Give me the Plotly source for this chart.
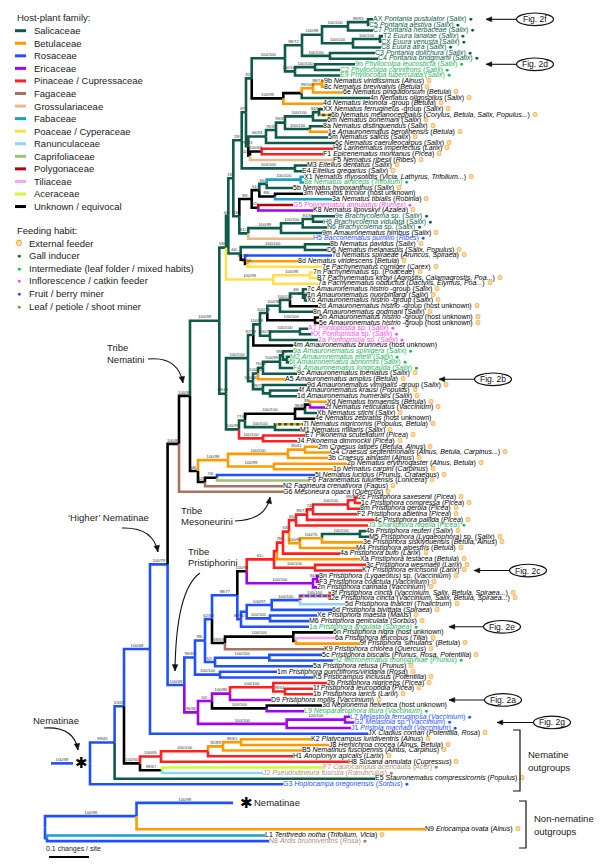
import plotly.graph_objects as go

# ------------------------------------------------------------------ data
FAMILY_KEYS = ["sal", "bet", "ros", "eri", "pin", "fag", "gro", "fab", "poa", "ran", "cap", "pol", "til", "ace", "unk"]
FAMILY_NAMES = ["Salicaceae", "Betulaceae", "Rosaceae", "Ericaceae", "Pinaceae / Cupressaceae", "Fagaceae",
                "Grossulariaceae", "Fabaceae", "Poaceae / Cyperaceae", "Ranunculaceae", "Caprifoliaceae",
                "Polygonaceae", "Tiliaceae", "Aceraceae", "Unknown / equivocal"]
FAMILY_COLORS = ["#0d5b48", "#ff9a00", "#1f50ff", "#a100f2", "#ff1f1f", "#a8735c", "#e8bb8c", "#1aa0c8",
                 "#ffe04a", "#8fd6f6", "#9dbd78", "#b80012", "#f6a6ec", "#ccff33", "#000000"]
HABIT_KEYS = ["ext", "gall", "int", "inf", "fru", "min"]
HABIT_NAMES = ["External feeder", "Gall inducer", "Intermediate (leaf folder / mixed habits)",
               "Inflorescence / catkin feeder", "Fruit / berry miner", "Leaf / petiole / shoot miner"]
HABIT_COLORS = ["#ff9a00", "#0d5b48", "#1db45a", "#ff4de6", "#1f50ff", "#a8785e"]
HABIT_TEXT = ["#000000", "#0d5b48", "#1db45a", "#ff4de6", "#1f50ff", "#b39079"]

TIP_CODE = ["AX", "C5", "C7", "T2", "CX", "C8", "C3", "C4", "9n", "C2", "E9", "9b", "8c", "6e", "4n", "4d", "XX",
            "6b", "6m", "8a", "1e", "5m", "6c", "H6", "F1", "F5", "M3", "E4", "X1", "8e", "5b", "3m", "3a", "G5",
            "K8", "9e", "H6", "N6", "9m", "H5", "8b", "D6", "7d", "8d", "7e", "7n", "B7", "7a", "7c", "1n", "Xc",
            "2d", "8n", "5n", "5e", "A7", "KX", "2a", "4m", "9a", "M2", "6t", "F4", "9c", "A5", "9d", "4f", "1d",
            "Xd", "2f", "Xb", "4e", "7l", "M1", "E7", "J4", "2m", "G4", "3b", "2p", "1p", "5l", "F6", "N2", "G6",
            "2c", "1c", "8m", "F2", "4c", "J3", "4b", "M5", "3e", "M4", "4a", "Xa", "3c", "K7", "3n", "F3", "2n",
            "3f", "2e", "5d", "6d", "Xe", "M6", "1a", "6n", "6a", "9f", "K9", "5c", "H2", "5a", "1m", "K5", "2b",
            "1f", "1b", "D9", "3d", "L9", "L7", "G2", "J1", "JX", "K2", "J8", "B5", "H1", "H8", "F7", "J2", "E5",
            "G3"]
TIP_TAXON = ["Pontania pustulator", "Pontania aestiva", "Pontania herbaceae", "Euura lanatae", "Euura venusta",
             "Euura atra", "Pontania dolichura", "Pontania bridgmanii", "Phyllocolpa leucosticta",
             "Phyllocolpa carinifrons", "Phyllocolpa tuberculata", "Nematus viridissimus", "Nematus brevivalvis",
             "Nematus pinguidorsum", "Nematus oligospilus", "Nematus leionota -group", "Nematus ferrugineus -group",
             "Nematus melanocephalus", "Nematus bohemani", "Nematus distinguendus", "Amauronematus berolinensis",
             "Nematus salicis", "Nematus caeruleocarpus", "Larinematus imperfectus", "Epicenematus montanus",
             "Nematus ribesii", "Eitelius dentatus", "Eitelius gregarius", "Nematus myosotidis", "Nematus alniceps",
             "Nematus hypoxanthus", "Nematus tricolor ", "Nematus tibialis", "Polynematus annulatus",
             "Nematus lipovskyi", "Brachycolema sp.", "Brachycolema vidulata", "Brachycolema sp.",
             "Amauronematus nimbus", "Bacconematus pumilio", "Nematus pavidus", "Nematus melanaspis",
             "Nematus spiraeae", "Nematus viridescens", "Pachynematus corniger", "Pachynematus sp.",
             "Pachynematus kirbyi", "Pachynematus obductus", "Amauronematus histrio -group",
             "Amauronematus nuorbinjargi", "Amauronematus histrio -group", "Amauronematus histrio -group",
             "Amauronematus godmani", "Amauronematus histrio -group", "Amauronematus histrio -group",
             "Pontopristia sp.", "Pontopristia sp.", "Pontopristia sp.", "Amauronematus brunneus",
             "Amauronematus spinigera", "Amauronematus eitelii", "Amauronematus abnormis",
             "Amauronematus longicauda", "Amauronematus toeniatus", "Amauronematus amplus",
             "Amauronematus viminalis -group", "Amauronematus krausi", "Amauronematus humeralis",
             "Nematus tomaensis", "Nematus reticulatus", "Nematus stichi", "Nematus zebratus",
             "Nematus nigricornis", "Nematus miliaris", "Pikonema scutellatum", "Pikonema dimmockii",
             "Craesus latipes", "Craesus septentrionalis", "Craesus alniastri", "Nematus erythrogaster",
             "Nematus carpini", "Nematus lucidus", "Paranematus tulunensis", "Fagineura crenativora",
             "Mesoneura opaca", "Pristiphora saxesenii", "Pristiphora compressa", "Pristiphora gerula",
             "Pristiphora abietina", "Pristiphora pallida", "Sharliphora nigella", "Pristiphora reuteri",
             "Pristiphora (Lygaeophora) sp.", "Pristiphora siskiyouensis", "Pristiphora alpestris",
             "Pristiphora bufo", "Pristiphora testacea", "Pristiphora wesmaeli", "Pristiphora erichsonii",
             "Pristiphora (Lygaeotus) sp.", "Pristiphora coactula", "Pristiphora carinata", "Pristiphora cincta",
             "Pristiphora cincta", "Pristiphora thalictri", "Pristiphora bivittata", "Pristiphora maesta",
             "Pristiphora geniculata", "Pristiphora angulata", "Pristiphora nigra", "Pristiphora leucopus",
             "Pristiphora 'simulans'", "Pristiphora chlorea", "Pristiphora biscalis", "Micronematus monogyniae",
             "Pristiphora retusa", "Pristiphora punctifrons/viridana", "Pristicampus inclusus",
             "Pristiphora nigriceps", "Pristiphora leucopodia", "Pristiphora laricis", "Pristiphora mollis",
             "Nepionema helvetica", "Neoparaeophora litura", "Melastola ferruginosa", "Melastola sp.",
             "Pristola macnabi", "Cladius comari", "Platycampus luridiventris", "Hemichroa crocea",
             "Nematinus fuscipennis", "Anoplonyx apicalis", "Susana annulata", "Caulocampus acericaulis",
             "Pseudodineura fuscula", "Stauronematus compressicornis", "Hoplocampa oregonensis"]
TIP_HOST = ["Salix", "Salix", "Salix", "Salix", "Salix", "Salix", "Salix", "Salix", "Salix", "Salix", "Salix",
            "Alnus", "Betula", "Betula", "Salix", "Betula", "Salix", "Corylus, Betula, Salix, Populus...", "Salix",
            "Salix", "Betula", "Salix", "Salix", "Larix", "Picea", "Ribes", "Salix", "Salix",
            "Vicia, Lathyrus, Trifolium...", "Trifolium", "Salix", "host unknown", "Robinia", "Rumex", "Azalea",
            "Salix", "Salix", "Salix", "Salix", "Ribes", "Salix", "Salix, Populus", "Aruncus, Spiraea", "Betula",
            "Carex", "Poaceae", "Agrostis, Calamagrostis, Poa...", "Dactylis, Elymus, Poa...", "Salix", "Salix",
            "Salix", "host unknown", "Salix", "host unknown", "host unknown", "Salix", "Salix", "Salix",
            "host unknown", "Salix", "Salix", "Salix", "Salix", "Salix", "Betula", "Salix", "Populus", "Salix",
            "Betula", "Vaccinium", "Salix", "host unknown", "Populus, Betula", "Salix", "Picea", "Picea",
            "Betula, Alnus", "Alnus, Betula, Carpinus...", "Alnus", "Alnus, Betula", "Carpinus",
            "Prunus, Crataegus", "Lonicera", "Fagus", "Quercus", "Picea", "Picea", "Picea", "Picea", "Picea",
            "Picea", "Salix", "Salix", "Betula, Alnus", "Betula", "Larix", "Betula", "Larix", "Larix", "Vaccinium",
            "Vaccinium", "Vaccinium", "Vaccinium, Salix, Betula, Spiraea...", "Vaccinium, Salix, Betula, Spiraea...",
            "Thalictrum", "Spiraea", "Malus", "Sorbus", "Spiraea", "host unknown", "Tilia", "Betula", "Quercus",
            "Prunus, Rosa, Potentilla", "Prunus", "Prunus", "Rosa", "Potentilla", "Picea", "Picea", "Larix",
            "Vaccinium", "host unknown", "Vaccinium", "Vaccinium", "Vaccinium", "Vaccinium", "Potentilla, Rosa",
            "Alnus", "Alnus, Betula", "Alnus, Carpinus", "Larix", "Cupressus", "Acer", "Ranunculus", "Populus",
            "Sorbus"]
TIP_FAM = ["sal"] * 11 + ["bet", "bet", "bet", "sal", "bet", "sal", "bet/sal", "sal", "sal", "bet", "sal", "sal",
           "pin", "pin", "gro", "sal", "sal", "fab", "fab", "sal", "unk", "fab", "pol", "eri", "sal", "sal", "sal",
           "sal", "gro", "sal", "sal", "ros", "bet", "poa", "poa", "poa", "poa", "sal", "sal", "sal", "unk", "sal",
           "unk", "unk", "sal", "sal", "sal", "unk", "sal", "sal", "sal", "sal", "sal", "bet", "sal", "sal", "sal",
           "bet", "eri", "sal", "unk", "bet/sal", "sal", "pin", "pin", "bet", "bet", "bet", "bet", "bet", "ros",
           "cap", "fag", "fag", "pin", "pin", "pin", "pin", "pin", "pin", "sal", "sal", "bet", "bet", "pin", "bet",
           "pin", "pin", "eri", "eri", "eri", "mix", "mix", "ran", "ros", "ros", "ros", "ros", "unk", "til", "bet",
           "fag", "ros", "ros", "ros", "ros", "ros", "pin", "pin", "pin", "eri", "unk", "eri", "eri", "eri", "eri",
           "ros", "bet", "bet", "bet", "pin", "pin", "ace", "ran", "sal", "ros"]
TIP_HABIT = (["gall"] * 8 + ["int"] * 3 + ["ext"] * 18 +
             ["int", "ext", "", "ext", "inf", "ext", "gall", "gall", "gall", "ext", "fru"] +
             ["ext"] * 15 + ["inf"] * 3 + [""] + ["int"] * 4 + ["ext"] * 8 + [""] + ["ext"] * 18 + ["int"] +
             ["ext"] * 17 + ["int", ""] + ["ext"] * 4 + ["int"] + ["ext"] * 7 + ["", "int", "fru", "fru", "fru"] +
             ["ext"] * 6 + ["min", "min", "ext", "fru"])
TIP_DEPTH = [0.7075, 0.6975, 0.7075, 0.7325, 0.7275, 0.7275, 0.7125, 0.72, 0.6625, 0.625, 0.625, 0.585, 0.585,
             0.6325, 0.70, 0.5825, 0.5825, 0.6025, 0.5925, 0.5825, 0.595, 0.595, 0.6125, 0.6075, 0.5825, 0.6075,
             0.5425, 0.53, 0.535, 0.535, 0.5075, 0.5325, 0.605, 0.5075, 0.5575, 0.6125, 0.5825, 0.5925, 0.58,
             0.5575, 0.60, 0.5925, 0.605, 0.52, 0.58, 0.5575, 0.5675, 0.57, 0.5425, 0.5425, 0.5425, 0.57, 0.5575,
             0.5725, 0.5725, 0.545, 0.5525, 0.57, 0.5075, 0.5075, 0.50, 0.4975, 0.5075, 0.5175, 0.4875, 0.5425,
             0.52, 0.5175, 0.5925, 0.5875, 0.5675, 0.5625, 0.5325, 0.525, 0.5375, 0.5175, 0.57, 0.60, 0.595, 0.6425,
             0.6075, 0.5625, 0.545, 0.4825, 0.4825, 0.67, 0.6775, 0.675, 0.6675, 0.71, 0.695, 0.69, 0.6975, 0.6825,
             0.665, 0.625, 0.675, 0.69, 0.68, 0.5725, 0.5725, 0.5675, 0.6025, 0.6025, 0.6375, 0.605, 0.5675,
             0.5475, 0.5475, 0.6075, 0.6125, 0.675, 0.585, 0.58, 0.6075, 0.5575, 0.4675, 0.5575, 0.5925, 0.5575,
             0.5575, 0.4525, 0.58, 0.535, 0.65, 0.66, 0.6525, 0.695, 0.5525, 0.5975, 0.53, 0.5075, 0.645, 0.5825,
             0.4325, 0.7125, 0.4825]


def T(depth, fam, sup, *kids):
    return {"d": depth, "fam": fam, "sup": sup, "kids": list(kids)}


# node depths in changes/site from the Nematinae root; supports = bootstrap ML/MP
PONT = T(0.4875, "sal", "100/100",
         T(0.53, "sal", "98/72",
           T(0.58, "sal", "100/98",
             T(0.645, "sal", "100/100", T(0.695, "sal", "99/93", 0, 1), 2),
             T(0.6575, "sal", "100/100", T(0.725, "sal", "100/100", 3, 4), 5)),
           T(0.60, "sal", "100/100", 6, 7)),
         T(0.5125, "sal", "100/100", T(0.5625, "sal", "100/100", 8, 9), 10))
NU = T(0.34, "sal", "58/-",
       T(0.3458, "sal", "40/-",
         T(0.3583, "sal", "19/-",
           T(0.3793, "sal", "29/-",
             T(0.39, "sal", "87/-",
               T(0.4043, "sal", "92/-",
                 PONT,
                 T(0.4833, "unk", "100/99",
                   T(0.5293, "unk", "", T(0.5575, "bet", "99/100", T(0.58, "bet", "98/73", 11, 12), 13), 14),
                   15)),
               T(0.3958, "sal", "78/23",
                 T(0.44, "sal", "66/53",
                   T(0.465, "sal", "78/35",
                     T(0.4875, "sal", "99/55",
                       T(0.5575, "sal", "100/100", T(0.5725, "sal", "94/58", 16, 17), 18),
                       T(0.55, "sal", "100/100", 19, 20)),
                     21),
                   22),
                 T(0.40, "unk", "100/68", T(0.4293, "unk", "100/68", 23, 24), 25))),
             T(0.5125, "sal", "100/100", 26, 27)),
           T(0.3733, "sal", "43/-",
             T(0.4043, "unk", "99/-",
               T(0.4233, "unk", "51/-",
                 T(0.4418, "sal", "65/-", T(0.5268, "fab", "100/100", 28, 29), 30),
                 T(0.4625, "unk", "88/-", 31, 32)),
               T(0.4208, "unk", "52/-", 33, 34)),
             T(0.3958, "sal", "61/-",
               T(0.4775, "sal", "100/99",
                 T(0.5318, "sal", "100/100", T(0.5575, "sal", "91/56", 35, 36), 37), 38),
               39))),
         T(0.3768, "sal", "44/-",
           T(0.5375, "sal", "100/100", 40, 41),
           T(0.3875, "unk", "84/92", 42, T(0.3933, "unk", "36/15", 43, 44)))),
       T(0.4583, "poa", "100/93", T(0.55, "poa", "100/99", 45, 46), 47))
AMA = T(0.395, "sal", "100/100",
        T(0.4083, "sal", "97/59",
          T(0.425, "sal", "100/59",
            T(0.4433, "sal", "100/79",
              T(0.475, "sal", "100/98",
                T(0.50, "sal", "100/100", T(0.5325, "sal", "49/-", 48, T(0.5375, "sal", "100/97", 49, 50)), 51),
                52),
              T(0.5625, "unk", "100/100", 53, 54)),
            T(0.45, "sal", "100/79", T(0.525, "sal", "100/100", 55, 56), 57)),
          58),
        T(0.4075, "sal", "100/96",
          T(0.42, "sal", "100/92",
            T(0.4325, "sal", "76/48",
              T(0.475, "sal", "100/99", T(0.4825, "sal", "99/96", 59, T(0.4925, "sal", "", 60, 61)), 62),
              63),
            64),
          T(0.4325, "sal", "99/71", 65, T(0.45, "sal", "", 66, 67))))
K4 = T(0.3725, "sal", "100/95",
       T(0.3875, "sal", "77/67",
         T(0.5125, "unk", "100/100", T(0.5375, "unk", "98/83", T(0.55, "unk", "98/-", 68, 69), 70), 71),
         T(0.4625, "sal", "100/100", 72, 73)),
       T(0.4325, "pin", "100/100", 74, 75))
NEM = T(0.3233, "sal", "100/99", NU, T(0.34, "sal", "68/48", AMA, K4))
PIN = T(0.46, "pin", "61/-",
        T(0.4675, "pin", "",
          T(0.4825, "pin", "78/-",
            T(0.4975, "pin", "53/-",
              T(0.515, "pin", "65/-",
                T(0.5425, "pin", "99/73",
                  T(0.5575, "pin", "74/-",
                    T(0.645, "pin", "100/100", T(0.6625, "pin", "89/37", 85, 86), 87), 88), 89), 90),
              T(0.525, "bet", "100/96", T(0.58, "bet", "100/75", T(0.675, "sal", "100/100", 91, 92), 93), 94)),
            95),
          96),
        T(0.5625, "pin", "100/100", 97, 98))
VAC = T(0.5575, "eri", "100/100", T(0.5675, "eri", "94/92", 99, 100), 101)
C6 = T(0.3775, "ros", "88/80",
       T(0.3918, "ros", "",
         T(0.4543, "ros", "100/97", T(0.525, "ros", "100/100", T(0.5983, "mix", "100/100", 102, 103), 104), 105),
         T(0.45, "ros", "100/100", 106, 107)),
       108)
PW = T(0.3683, "ros", "98/77", T(0.3918, "unk", "100/98", PIN, VAC), C6)
Y0 = T(0.3375, "unk", "59/59", T(0.5083, "unk", "100/100", 109, T(0.515, "unk", "", 110, 111)), 112)
PU = T(0.2625, "ros", "95/69",
       T(0.2875, "ros", "99/-", T(0.305, "ros", "62/53", PW, Y0),
         T(0.3125, "ros", "52/-", T(0.4483, "ros", "100/100", 113, 114), 115)),
       T(0.325, "ros", "100/100", 116, 117))
PL = T(0.27, "eri", "96/90",
       T(0.305, "eri", "52/-",
         T(0.35, "eri", "100/86", T(0.4583, "pin", "100/100", 118, T(0.4875, "pin", "99/51", 119, 120)), 121),
         T(0.4418, "unk", "100/100", 122, 123)),
       T(0.4918, "eri", "100/100", T(0.6375, "eri", "100/100", 124, 125), 126))
PRISTI = T(0.2358, "ros", "100/69", PU, PL)
TREE = T(0.0, "ros", "",
         T(0.0615, "ros", "99/45",
           T(0.085, "ros", "63/26",
             T(0.15, "ros", "100/68",
               T(0.194, "ros", "100/79",
                 T(0.2225, "unk", "100/88",
                   T(0.25, "unk", "100/98", NEM,
                     T(0.27, "unk", "58/-",
                       T(0.345, "bet", "100/99",
                         T(0.495, "bet", "100/100", T(0.5375, "bet", "80/61", 76, 77), 78),
                         T(0.46, "bet", "100/99", 79, 80)),
                       T(0.2875, "unk", "52/-", T(0.3175, "unk", "74/-", 81, 82), 83))),
                   84),
                 PRISTI),
               127),
             T(0.125, "unk", "100/50",
               T(0.1775, "pin", "100/65",
                 T(0.295, "pin", "100/100",
                   T(0.3325, "bet", "92/89", T(0.3775, "bet", "99/61", 128, 129), 130), 131), 132),
               T(0.18, "unk", "99/67", 133, 134))),
           135),
         136)

# bottom (non-nematine) tree
B_CODE = ["", "N9", "L1", "N8"]
B_TAXON = ["", "Eriocampa ovata", "Tenthredo notha", "Ardis brunniventris"]
B_HOST = ["", "Alnus", "Trifolium, Vicia", "Rosa"]
B_FAM = ["ros", "bet", "fab", "ros"]
B_HABIT = ["", "ext", "ext", "min"]
B_DEPTH = [0.47, 0.95, 0.55, 0.56]
B_ROWS = [139.3, 144.0, 145.1, 146.1]
B_TIPSUP = ["100/99", "", "", ""]
B_TREE = T(0.0, "ros", "", T(0.2288, "ros", "100/99", 0, 1), T(0.005, "ros", "", 2, 3))
B_ROOT = -0.1125

# ------------------------------------------------------------------ layout constants
W, H = 600, 867
ROW0_PX, ROW_PX = 19.3, 5.625
ROOT_PX, PX_PER_UNIT = 90.0, 400.0
FONT = "Liberation Sans, Arial, sans-serif"
CMAP = dict(zip(FAMILY_KEYS, FAMILY_COLORS))
HMAP = dict(zip(HABIT_KEYS, HABIT_COLORS))
HTXT = dict(zip(HABIT_KEYS, HABIT_TEXT))


def P(px, py):
    return px / W, 1 - py / H


def set_y(n, rows):
    if isinstance(n, int):
        return rows[n]
    ys = [set_y(k, rows) for k in n["kids"]]
    n["y"] = (ys[0] + ys[-1]) / 2
    return n["y"]


def collect(n, off, depth, rows, fams, tipsup, segs, sups):
    for k in n["kids"]:
        if isinstance(k, int):
            x, y, fam, sup = depth[k] + off, rows[k], fams[k], tipsup[k] if tipsup else ""
        else:
            x, y, fam, sup = k["d"] + off, k["y"], k["fam"], k["sup"]
        segs.append((fam, [n["d"] + off, n["d"] + off, x], [n["y"], y, y]))
        if sup:
            sups.append(((n["d"] + off + x) / 2, y, sup))
        if not isinstance(k, int):
            collect(k, off, depth, rows, fams, tipsup, segs, sups)


TOP_ROWS = list(range(len(TIP_CODE)))
set_y(TREE, TOP_ROWS)
set_y(B_TREE, B_ROWS)
segs, sups = [], []
collect(TREE, 0.0, TIP_DEPTH, TOP_ROWS, TIP_FAM, None, segs, sups)
collect(B_TREE, B_ROOT, B_DEPTH, B_ROWS, B_FAM, B_TIPSUP, segs, sups)
root_y = TREE["y"]
segs.append(("ros", [-0.0975, -0.0425], [root_y, root_y]))
sups.append((-0.07, root_y, "100/99"))

fig = go.Figure()
LW = 2.6
by_col = {}
for fam, xs, ys in segs:
    base = {"bet/sal": "bet", "mix": "ros"}.get(fam, fam)
    by_col.setdefault(base, ([], []))
    by_col[base][0].extend(xs + [None])
    by_col[base][1].extend(ys + [None])
for fam, (xs, ys) in by_col.items():
    fig.add_trace(go.Scatter(x=xs, y=ys, mode="lines", line=dict(color=CMAP[fam], width=LW),
                             hoverinfo="skip", showlegend=False))
for fam, dashes in (("bet/sal", [("sal", "3px,3px")]), ("mix", [("bet", "3px,3px"), ("eri", "1px,5px")])):
    xs, ys = [], []
    for f, sx, sy in segs:
        if f == fam:
            xs += sx + [None]
            ys += sy + [None]
    for col, dash in dashes:
        fig.add_trace(go.Scatter(x=xs, y=ys, mode="lines", line=dict(color=CMAP[col], width=LW, dash=dash),
                                 hoverinfo="skip", showlegend=False))

PLAIN = {"sp.", "-group"}


def name_html(name):
    out, cur = [], []
    for w in name.split(" "):
        if w in PLAIN:
            if cur:
                out.append("<i>" + " ".join(cur) + "</i>")
                cur = []
            out.append(w)
        elif w:
            cur.append(w)
    if cur:
        out.append("<i>" + " ".join(cur) + "</i>")
    return " ".join(out)


def label_html(code, name, host, habit):
    h = host if host == "host unknown" else "<i>" + host + "</i>"
    s = f"{code} {name_html(name)} ({h})"
    if habit:
        sym = "⚙" if habit == "ext" else "●"
        s += f" <span style='color:{HMAP[habit]}'>{sym}</span>"
    return s


def add_labels(codes, names, hosts, habits, depth, rows, off):
    txt, col, xs, ys = [], [], [], []
    for i in range(len(codes)):
        if not codes[i]:
            continue
        txt.append(label_html(codes[i], names[i], hosts[i], habits[i]))
        col.append(HTXT.get(habits[i], "#000000"))
        xs.append(depth[i] + off)
        ys.append(rows[i])
    fig.add_trace(go.Scatter(x=xs, y=ys, mode="text", text=txt, textposition="middle right",
                             textfont=dict(family=FONT, size=7, color=col), hoverinfo="skip", showlegend=False))


add_labels(TIP_CODE, TIP_TAXON, TIP_HOST, TIP_HABIT, TIP_DEPTH, TOP_ROWS, 0.0)
add_labels(B_CODE, B_TAXON, B_HOST, B_HABIT, B_DEPTH, B_ROWS, B_ROOT)

fig.add_trace(go.Scatter(x=[s[0] for s in sups], y=[s[1] - 0.6 for s in sups], mode="text",
                         text=[s[2] for s in sups], textposition="middle center",
                         textfont=dict(family=FONT, size=4.2, color="#333333"), hoverinfo="skip",
                         showlegend=False))

ann, shp = [], []


def text(px, py, s, size=9.5, anchor="left", color="#222222", font=FONT):
    x, y = P(px, py)
    ann.append(dict(x=x, y=y, xref="paper", yref="paper", text=s, showarrow=False, xanchor=anchor,
                    yanchor="middle", font=dict(family=font, size=size, color=color)))


def arrow(p0, p1, ctrl=None, head=4.0):
    (x0, y0), (x1, y1) = p0, p1
    if ctrl is None:
        ctrl = ((x0 + x1) / 2, (y0 + y1) / 2)
    cx, cy = ctrl
    a, b = P(x0, y0), P(x1, y1)
    c = P(cx, cy)
    shp.append(dict(type="path", xref="paper", yref="paper",
                    path=f"M {a[0]},{a[1]} Q {c[0]},{c[1]} {b[0]},{b[1]}", line=dict(color="#111111", width=1.1)))
    dx, dy = x1 - cx, y1 - cy
    L = (dx * dx + dy * dy) ** 0.5 or 1
    ux, uy = dx / L, dy / L
    bx, by = x1 - ux * head * 1.6, y1 - uy * head * 1.6
    pa = P(bx - uy * head * 0.7, by + ux * head * 0.7)
    pb = P(bx + uy * head * 0.7, by - ux * head * 0.7)
    shp.append(dict(type="path", xref="paper", yref="paper",
                    path=f"M {b[0]},{b[1]} L {pa[0]},{pa[1]} L {pb[0]},{pb[1]} Z",
                    fillcolor="#111111", line=dict(color="#111111", width=0.5)))


text(15, 17.3, "Host-plant family:")
for i, (nm, colr) in enumerate(zip(FAMILY_NAMES, FAMILY_COLORS)):
    yy = 30.7 + 12.56 * i
    a, b = P(15, yy), P(26, yy)
    shp.append(dict(type="line", xref="paper", yref="paper", x0=a[0], y0=a[1], x1=b[0], y1=b[1],
                    line=dict(color=colr, width=3)))
    text(31.5, yy, nm)
text(15, 230.7, "Feeding habit:")
for i, (nm, colr) in enumerate(zip(HABIT_NAMES, HABIT_COLORS)):
    yy = 243.3 + 12.55 * i
    text(18.5, yy, "⚙" if i == 0 else "●", size=9 if i == 0 else 7, anchor="center", color=colr)
    text(27, yy, nm)

text(105, 347.7, "Tribe")
text(105, 359.3, "Nematini")
arrow((148, 359), (183, 383), (178, 356))
text(179, 510, "Tribe")
text(179, 521, "Mesoneurini")
arrow((235, 521), (270, 497), (266, 520))
text(66, 517, "‘Higher’ Nematinae")
arrow((122, 528), (158, 552), (153, 527))
text(186, 551, "Tribe")
text(186, 562, "Pristiphorini")
arrow((200, 573), (175, 671), (176, 590))
text(31, 720, "Nematinae")
arrow((44, 728), (78, 750), (74, 726))
ann.append(dict(x=-0.0225, y=root_y, xref="x", yref="y", text="✱", showarrow=False,
                font=dict(family="DejaVu Sans", size=15, color="#000000"), xanchor="center", yanchor="middle"))
bx = B_ROOT + B_DEPTH[0]
ann.append(dict(x=bx + 0.012, y=B_ROWS[0], xref="x", yref="y", text="✱", showarrow=False,
                font=dict(family="DejaVu Sans", size=15, color="#000000"), xanchor="left", yanchor="middle"))
ann.append(dict(x=bx + 0.048, y=B_ROWS[0], xref="x", yref="y", text="Nematinae", showarrow=False,
                font=dict(family=FONT, size=9.5, color="#222222"), xanchor="left", yanchor="middle"))

FIG_NAMES = ["Fig. 2f", "Fig. 2d", "Fig. 2b", "Fig. 2c", "Fig. 2e", "Fig. 2a", "Fig. 2g"]
FIG_TIP = [0, 8, 64, 98, 108, 121, 125]
FIG_HEAD_PX = [486, 486, 439, 474, 449, 449, 497]
FIG_OVAL_PX = [535, 535, 493, 528, 502, 503, 552]
for nm, tip, hx, ox in zip(FIG_NAMES, FIG_TIP, FIG_HEAD_PX, FIG_OVAL_PX):
    py = ROW0_PX + ROW_PX * tip
    arrow((ox - 19, py), (hx, py), None, head=3.6)
    a, b = P(ox - 18.5, py - 6.3), P(ox + 18.5, py + 6.3)
    shp.append(dict(type="circle", xref="paper", yref="paper", x0=a[0], y0=a[1], x1=b[0], y1=b[1],
                    line=dict(color="#111111", width=1.2)))
    text(ox, py, nm, size=8.5, anchor="center", color="#111111")


def bracket(x, y0, y1):
    a, b, c, d = P(x - 7, y0), P(x, y0), P(x, y1), P(x - 7, y1)
    shp.append(dict(type="path", xref="paper", yref="paper",
                    path=f"M {a[0]},{a[1]} L {b[0]},{b[1]} L {c[0]},{c[1]} L {d[0]},{d[1]}",
                    line=dict(color="#111111", width=1.2)))


bracket(520, 730, 791)
text(526, 754, "Nematine")
text(526, 767, "outgroups")
bracket(526, 801, 848)
text(532, 818, "Non-nematine")
text(532, 831, "outgroups")

sy = (857 - ROW0_PX) / ROW_PX
fig.add_trace(go.Scatter(x=[-0.1025, -0.0025], y=[sy, sy], mode="lines", line=dict(color="#000000", width=2.2),
                         hoverinfo="skip", showlegend=False))
text(44, 849, "0.1 changes / site", size=7)

fig.update_layout(
    width=W, height=H, margin=dict(l=0, r=0, t=0, b=0), paper_bgcolor="white", plot_bgcolor="white",
    xaxis=dict(range=[(0 - ROOT_PX) / PX_PER_UNIT, (W - ROOT_PX) / PX_PER_UNIT], visible=False, fixedrange=True),
    yaxis=dict(range=[(H - ROW0_PX) / ROW_PX, (0 - ROW0_PX) / ROW_PX], visible=False, fixedrange=True),
    annotations=ann, shapes=shp, showlegend=False,
)
fig.write_html("out.html", config={"displayModeBar": False}, post_script="document.body.style.margin='0';")
